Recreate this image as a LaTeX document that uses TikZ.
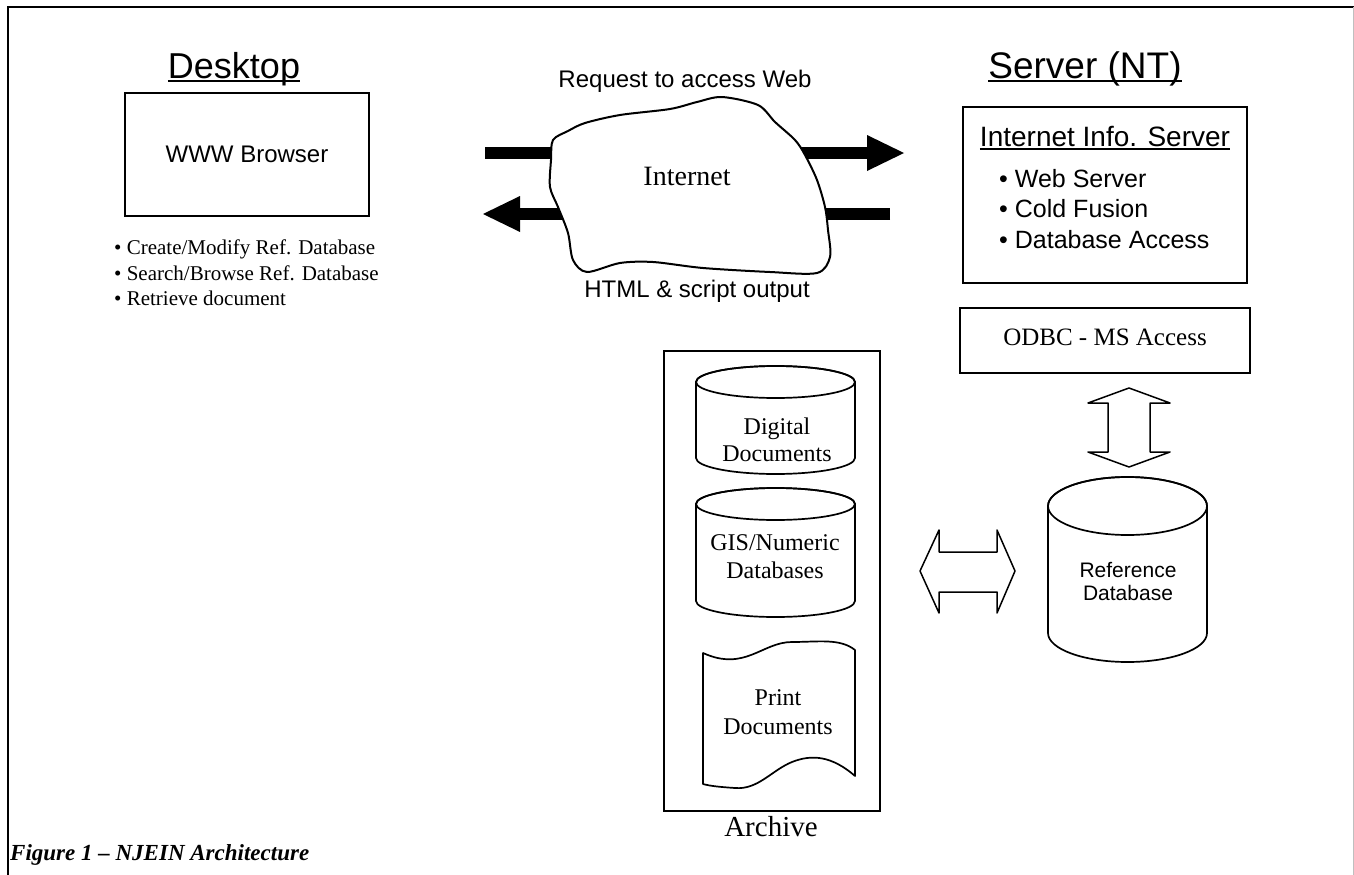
\documentclass[tikz,border=0pt]{standalone}
\usepackage{fontspec}
\setmainfont{Liberation Serif}
\newfontfamily\sansf{Liberation Sans}
\begin{document}
\begin{tikzpicture}[x=1pt,y=-1pt,
  txt/.style={inner sep=0pt, anchor=base},
  box/.style={draw, line width=2.2pt, inner sep=0pt},
  outl/.style={draw, line width=1.7pt, fill=white, line join=round},
  shaft/.style={line width=12pt},
  sanss/.style={font=\sansf\fontsize{#1}{#1}\selectfont},
  serifs/.style={font=\fontsize{#1}{#1}\selectfont}]
\useasboundingbox (0,0) rectangle (1354,875);
% frame
\draw[line width=1.6pt] (8,875) -- (8,7) -- (1354,7);
\draw[black!25, line width=1pt] (1353,7) -- (1353,875);

% ---------- Desktop ----------
\node[txt, sanss=36] (deskT) at (234,78) {Desktop};
\draw[line width=2pt] ([yshift=-3pt]deskT.base west) -- ([yshift=-3pt]deskT.base east);
\node[box, minimum width=244pt, minimum height=123pt, sanss=24] (browser) at (247,154.5) {WWW Browser};
\node[txt, anchor=base west, serifs=21] (b1) at (114,254) {• Create/Modify Ref. Database};
\node[txt, anchor=base west, serifs=21] (b2) at (114,280) {• Search/Browse Ref. Database};
\node[txt, anchor=base west, serifs=21] (b3) at (114,305) {• Retrieve document};

% ---------- Internet ----------
\node[txt, sanss=24] (req) at (685,87) {Request to access Web};
\node[txt, sanss=24] (html) at (697,297) {HTML \& script output};
\coordinate (upS) at (485,153);
\coordinate (upE) at (868,153);
\coordinate (upT) at (904,153);
\draw[shaft] (upS) -- (upE);
\fill (upT) -- ([shift={(-37,-18)}]upT) -- ([shift={(-37,18)}]upT) -- cycle;
\coordinate (dnS) at (890,214);
\coordinate (dnE) at (518,214);
\coordinate (dnT) at (483,214);
\draw[shaft] (dnS) -- (dnE);
\fill (dnT) -- ([shift={(37,-18)}]dnT) -- ([shift={(37,18)}]dnT) -- cycle;
\draw[outl, line width=2pt] plot[smooth cycle, tension=0.5] coordinates {
  (553,140) (568,131) (585,123) (620,115) (670,109) (697,102) (722,97)
  (758,105) (775,122) (795,140) (805,155) (817,180) (825,207) (828,230)
  (830,257) (817,273) (770,272) (703,268) (653,262) (620,263) (587,272)
  (573,260) (568,233) (558,207) (550,187) (551,160)};
\node[txt, serifs=28] (net) at (687,185) {Internet};

% ---------- Server ----------
\node[txt, sanss=37] (srvT) at (1085,78) {Server (NT)};
\draw[line width=2pt] ([yshift=-3pt]srvT.base west) -- ([yshift=-3pt]srvT.base east);
\node[box, minimum width=284pt, minimum height=176pt] (srv) at (1105,195) {};
\node[txt, sanss=28] (iis) at (1105,146) {Internet Info. Server};
\draw[line width=2pt] ([yshift=-3pt]iis.base west) -- ([yshift=-3pt]iis.base east);
\node[txt, anchor=base west, sanss=25] (s1) at (999,187) {• Web Server};
\node[txt, anchor=base west, sanss=25] (s2) at (999,217) {• Cold Fusion};
\node[txt, anchor=base west, sanss=25] (s3) at (999,248) {• Database Access};
\node[box, minimum width=290pt, minimum height=65pt] (odbc) at (1105,340.5) {};
\node[txt, serifs=25] (odbcT) at (1105,345) {ODBC - MS Access};

% vertical double arrow
\draw[outl, line width=1.5pt] (1129,388) -- (1170,403) -- (1150,403) -- (1150,452) -- (1170,452)
  -- (1129,467) -- (1088,452) -- (1108,452) -- (1108,403) -- (1088,403) -- cycle;

% reference database cylinder
\path[outl] (1048,506) -- (1048,633) arc[start angle=180, end angle=0, x radius=79.5, y radius=29]
  -- (1207,506) arc[start angle=0, end angle=-180, x radius=79.5, y radius=29] -- cycle;
\draw[line width=1.7pt] (1127.5,506) ellipse[x radius=79.5, y radius=29];
\node[txt, sanss=21] (ref1) at (1128,577) {Reference};
\node[txt, sanss=21] (ref2) at (1128,600) {Database};

% horizontal double arrow
\draw[outl, line width=1.5pt] (920,571) -- (939,530) -- (939,552) -- (997,552) -- (997,530)
  -- (1015,571) -- (997,613) -- (997,592) -- (939,592) -- (939,613) -- cycle;

% ---------- Archive ----------
\node[box, minimum width=216pt, minimum height=460pt] (arch) at (772,581) {};
\node[txt, serifs=29] (archT) at (771,836) {Archive};
% digital documents
\path[outl] (696,382) -- (696,458) arc[start angle=180, end angle=0, x radius=79.5, y radius=16]
  -- (855,382) arc[start angle=0, end angle=-180, x radius=79.5, y radius=16] -- cycle;
\draw[line width=1.7pt] (775.5,382) ellipse[x radius=79.5, y radius=16];
\node[txt, serifs=24] (dd1) at (777,434) {Digital};
\node[txt, serifs=24] (dd2) at (777,461) {Documents};
% GIS
\path[outl] (696,504) -- (696,601) arc[start angle=180, end angle=0, x radius=79.5, y radius=16]
  -- (855,504) arc[start angle=0, end angle=-180, x radius=79.5, y radius=16] -- cycle;
\draw[line width=1.7pt] (775.5,504) ellipse[x radius=79.5, y radius=16];
\node[txt, serifs=24] (gis1) at (775,550) {GIS/Numeric};
\node[txt, serifs=24] (gis2) at (775,578) {Databases};
% print documents
\draw[outl] (703,653) .. controls (745,672) and (762,642) .. (792,642)
  .. controls (818,642) and (840,638) .. (855,650) -- (855,776)
  .. controls (832,756) and (812,754) .. (792,762)
  .. controls (772,770) and (758,790) .. (735,788)
  .. controls (720,787) and (710,786) .. (703,784) -- cycle;
\node[txt, serifs=24] (pd1) at (778,705) {Print};
\node[txt, serifs=24] (pd2) at (778,734) {Documents};

% caption
\node[txt, anchor=base west, font=\bfseries\itshape\fontsize{23}{23}\selectfont] (cap) at (10,860) {Figure 1 – NJEIN Architecture};
\end{tikzpicture}
\end{document}
